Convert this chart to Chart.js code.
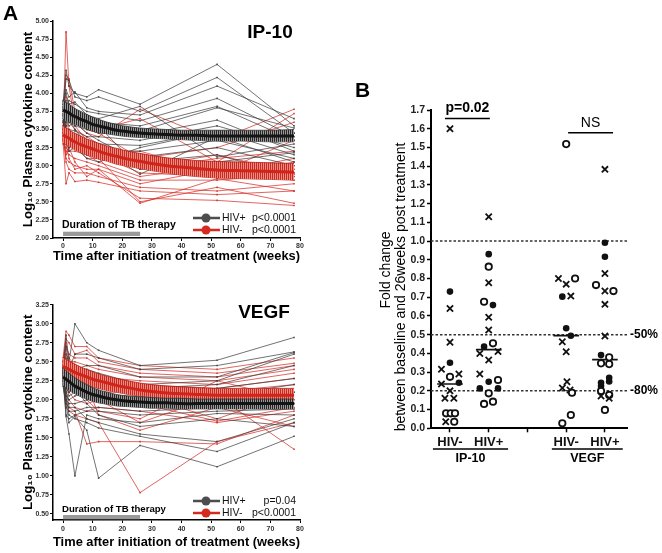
<!DOCTYPE html>
<html>
<head>
<meta charset="utf-8">
<script src="https://cdn.jsdelivr.net/npm/chart.js@4.4.0/dist/chart.umd.min.js"></script>
<style>
  body { margin: 0; background: #fff; }
  #wrap { position: relative; width: 662px; height: 553px; overflow: hidden; }
  canvas { position: absolute; }
</style>
</head>
<body>
<div id="wrap">
  <canvas id="ip10" width="330" height="265" style="left:0;top:0"></canvas>
  <canvas id="vegf" width="330" height="283" style="left:0;top:270px"></canvas>
  <canvas id="fold" width="322" height="400" style="left:340px;top:80px"></canvas>
</div>
<script>
// ---- panel A data (log10 cytokine per patient, at each visit) ----
const weeks = [0, 1, 2, 4, 8, 12, 26, 52, 78];
const xTicksA = [0, 10, 20, 30, 40, 50, 60, 70, 80];
const ip10Ticks = [2.00, 2.25, 2.50, 2.75, 3.00, 3.25, 3.50, 3.75, 4.00, 4.25, 4.50, 4.75, 5.00];
const vegfTicks = [0.50, 0.75, 1.00, 1.25, 1.50, 1.75, 2.00, 2.25, 2.50, 2.75, 3.00, 3.25];

const ip10HivPos = [
  [3.85, 4.32, 4.10, 4.00, 3.95, 4.05, 3.85, 4.40, 3.55],
  [3.80, 4.20, 4.18, 3.95, 3.90, 3.95, 3.75, 4.22, 3.45],
  [3.75, 4.05, 3.95, 4.02, 3.80, 3.75, 3.70, 4.10, 3.65],
  [3.90, 3.85, 3.90, 3.85, 3.75, 3.72, 3.62, 3.93, 3.40],
  [3.70, 3.75, 3.80, 3.70, 3.65, 3.60, 3.55, 3.82, 3.35],
  [3.65, 3.60, 3.70, 3.62, 3.55, 3.50, 3.48, 3.80, 3.52],
  [3.78, 3.55, 3.60, 3.55, 3.50, 3.45, 3.42, 3.63, 3.20],
  [3.72, 3.50, 3.50, 3.48, 3.40, 3.40, 3.35, 3.55, 3.25],
  [3.68, 3.45, 3.40, 3.42, 3.35, 3.30, 3.28, 3.48, 3.15],
  [3.82, 3.40, 3.35, 3.30, 3.25, 3.20, 3.20, 3.35, 3.10],
  [3.60, 3.30, 3.25, 3.35, 3.15, 3.15, 3.12, 3.25, 3.00],
  [3.75, 3.65, 3.55, 3.60, 3.45, 3.35, 3.05, 3.15, 2.85],
  [3.85, 3.90, 3.75, 3.78, 3.60, 3.55, 2.95, 3.05, 3.18],
  [3.70, 3.70, 3.65, 3.50, 3.30, 3.25, 2.88, 3.40, 3.05],
  [3.62, 3.35, 3.20, 3.25, 3.10, 3.05, 3.25, 3.48, 3.45],
  [3.88, 4.00, 3.85, 3.88, 3.70, 3.65, 3.82, 3.12, 3.30]
];
const ip10HivNeg = [
  [3.50, 4.85, 4.10, 3.60, 3.45, 3.40, 3.78, 3.35, 3.78],
  [3.45, 4.25, 4.20, 3.75, 3.55, 3.50, 3.65, 3.05, 3.72],
  [3.40, 3.95, 3.85, 3.70, 3.50, 3.45, 3.10, 3.25, 3.60],
  [3.55, 3.70, 3.60, 3.50, 3.40, 3.30, 3.00, 2.90, 3.35],
  [3.35, 3.55, 3.45, 3.35, 3.25, 3.20, 2.95, 3.10, 3.20],
  [3.48, 3.40, 3.30, 3.25, 3.20, 3.15, 2.90, 2.85, 3.05],
  [3.30, 3.25, 3.20, 3.20, 3.15, 3.05, 2.85, 3.00, 2.95],
  [3.42, 3.20, 3.15, 3.10, 3.05, 3.00, 2.80, 2.80, 2.88],
  [3.38, 3.10, 3.05, 3.00, 2.95, 2.95, 2.75, 2.95, 2.80],
  [3.52, 3.05, 2.95, 2.90, 2.90, 2.85, 2.70, 2.65, 2.75],
  [3.33, 2.75, 2.90, 2.78, 2.80, 2.77, 2.65, 2.60, 2.65],
  [3.46, 3.30, 3.10, 2.95, 3.00, 2.90, 2.55, 2.52, 2.45],
  [3.40, 3.50, 3.40, 3.30, 3.10, 3.10, 2.50, 2.70, 2.48],
  [3.36, 3.15, 3.25, 3.05, 2.85, 2.95, 2.48, 2.82, 2.65],
  [3.44, 3.60, 3.50, 3.40, 3.30, 3.20, 3.20, 2.90, 3.10],
  [3.50, 3.80, 3.70, 3.55, 3.35, 3.25, 2.98, 3.15, 2.90]
];
const vegfHivPos = [
  [2.40, 2.85, 2.50, 3.00, 2.75, 2.65, 2.45, 2.52, 2.82],
  [2.35, 2.70, 2.40, 2.60, 2.60, 2.55, 2.40, 2.45, 2.63],
  [2.30, 2.55, 2.30, 2.40, 2.45, 2.45, 2.30, 2.30, 2.62],
  [2.25, 2.45, 2.20, 2.30, 2.40, 2.35, 2.20, 2.25, 2.60],
  [2.35, 2.30, 2.15, 2.20, 2.30, 2.25, 2.15, 2.20, 2.45],
  [2.20, 2.20, 2.05, 2.10, 2.20, 2.15, 2.10, 2.15, 2.28],
  [2.28, 2.10, 2.00, 2.05, 2.10, 2.05, 2.00, 2.05, 2.20],
  [2.32, 2.00, 1.95, 1.95, 2.00, 2.00, 1.95, 1.98, 2.10],
  [2.22, 1.90, 1.85, 1.85, 1.90, 1.90, 1.85, 1.90, 1.95],
  [2.38, 1.80, 1.75, 1.80, 1.85, 1.85, 1.80, 1.85, 1.88],
  [2.26, 1.78, 1.55, 1.00, 1.80, 1.75, 1.70, 1.82, 1.80],
  [2.18, 1.95, 1.70, 1.78, 1.60, 0.97, 1.40, 1.12, 1.52],
  [2.42, 2.05, 1.80, 1.75, 1.70, 1.63, 1.52, 1.32, 1.70],
  [2.24, 2.15, 1.90, 1.90, 1.75, 1.70, 1.55, 1.45, 1.75],
  [2.33, 2.25, 2.10, 2.15, 1.95, 1.80, 1.65, 1.75, 1.65]
];
const vegfHivNeg = [
  [2.55, 2.90, 2.85, 2.70, 2.70, 2.55, 2.45, 2.40, 2.55],
  [2.50, 2.80, 2.75, 2.60, 2.65, 2.50, 2.40, 2.35, 2.48],
  [2.45, 2.70, 2.60, 2.55, 2.55, 2.45, 2.35, 2.30, 2.45],
  [2.48, 2.60, 2.50, 2.50, 2.45, 2.40, 2.30, 2.25, 2.40],
  [2.42, 2.50, 2.45, 2.40, 2.35, 2.30, 2.25, 2.20, 2.35],
  [2.40, 2.45, 2.35, 2.30, 2.25, 2.20, 2.20, 2.15, 2.28],
  [2.38, 2.35, 2.30, 2.20, 2.15, 2.10, 2.10, 2.10, 2.20],
  [2.52, 2.25, 2.20, 2.10, 2.05, 2.05, 2.05, 1.75, 2.10],
  [2.35, 2.15, 2.10, 2.00, 1.95, 2.00, 1.95, 1.72, 1.90],
  [2.46, 2.05, 2.00, 1.90, 1.85, 1.90, 1.85, 1.70, 1.85],
  [2.32, 1.95, 1.90, 1.85, 1.42, 1.45, 1.45, 1.42, 1.80],
  [2.44, 2.00, 1.85, 1.80, 1.75, 1.70, 0.78, 1.45, 1.70],
  [2.36, 2.60, 2.50, 2.35, 2.20, 1.80, 1.60, 1.90, 1.65],
  [2.50, 2.75, 2.55, 2.45, 2.30, 2.00, 1.70, 2.05, 1.35],
  [2.30, 2.20, 2.25, 2.15, 2.00, 1.85, 1.75, 2.25, 2.00]
];

// fitted curves with their bands
const fitWeeks = [0, 1, 2, 3, 4, 6, 8, 10, 12, 15, 18, 22, 26, 30, 35, 40, 45, 52, 60, 70, 78];
const ip10PosFit = [3.77, 3.75, 3.73, 3.70, 3.68, 3.64, 3.61, 3.57, 3.55, 3.52, 3.49, 3.47, 3.45, 3.44, 3.43, 3.42, 3.42, 3.41, 3.41, 3.41, 3.41];
const ip10PosHi  = [3.90, 3.87, 3.85, 3.82, 3.79, 3.75, 3.71, 3.67, 3.64, 3.60, 3.57, 3.54, 3.52, 3.51, 3.50, 3.49, 3.49, 3.49, 3.49, 3.49, 3.50];
const ip10PosLo  = [3.65, 3.63, 3.61, 3.59, 3.57, 3.54, 3.51, 3.48, 3.46, 3.44, 3.42, 3.40, 3.39, 3.38, 3.37, 3.36, 3.35, 3.34, 3.34, 3.33, 3.33];
const ip10NegFit = [3.43, 3.40, 3.38, 3.35, 3.33, 3.29, 3.26, 3.23, 3.20, 3.16, 3.13, 3.09, 3.06, 3.03, 3.00, 2.98, 2.96, 2.94, 2.93, 2.92, 2.91];
const ip10NegHi  = [3.55, 3.52, 3.50, 3.47, 3.45, 3.41, 3.37, 3.34, 3.31, 3.27, 3.24, 3.20, 3.17, 3.14, 3.11, 3.09, 3.07, 3.06, 3.05, 3.04, 3.03];
const ip10NegLo  = [3.32, 3.29, 3.27, 3.24, 3.22, 3.18, 3.15, 3.12, 3.09, 3.06, 3.02, 2.99, 2.96, 2.93, 2.90, 2.87, 2.85, 2.83, 2.82, 2.81, 2.80];
const vegfPosFit = [2.30, 2.27, 2.24, 2.21, 2.18, 2.14, 2.10, 2.07, 2.05, 2.02, 2.00, 1.98, 1.97, 1.96, 1.96, 1.95, 1.95, 1.95, 1.95, 1.95, 1.95];
const vegfPosHi  = [2.42, 2.38, 2.35, 2.32, 2.29, 2.24, 2.20, 2.16, 2.13, 2.10, 2.07, 2.05, 2.04, 2.03, 2.02, 2.02, 2.01, 2.01, 2.01, 2.01, 2.01];
const vegfPosLo  = [2.19, 2.16, 2.13, 2.10, 2.08, 2.04, 2.01, 1.98, 1.96, 1.94, 1.92, 1.91, 1.90, 1.89, 1.89, 1.88, 1.88, 1.88, 1.88, 1.88, 1.88];
const vegfNegFit = [2.44, 2.42, 2.40, 2.38, 2.36, 2.33, 2.30, 2.27, 2.25, 2.22, 2.19, 2.16, 2.13, 2.11, 2.09, 2.08, 2.07, 2.06, 2.06, 2.06, 2.06];
const vegfNegHi  = [2.56, 2.53, 2.51, 2.49, 2.47, 2.43, 2.40, 2.37, 2.34, 2.31, 2.28, 2.25, 2.22, 2.20, 2.18, 2.17, 2.16, 2.15, 2.15, 2.15, 2.15];
const vegfNegLo  = [2.33, 2.31, 2.29, 2.27, 2.25, 2.22, 2.19, 2.17, 2.15, 2.12, 2.10, 2.07, 2.05, 2.03, 2.01, 1.99, 1.98, 1.97, 1.97, 1.97, 1.97];

// ---- panel B data (fold change, 26 weeks vs baseline) ----
// kinds: x = cross, o = open circle, f = filled circle
const foldTicks = [0, 0.1, 0.2, 0.3, 0.4, 0.5, 0.6, 0.7, 0.8, 0.9, 1.0, 1.1, 1.2, 1.3, 1.4, 1.5, 1.6, 1.7];
const foldCats = [1, 2, 3, 4, 5];
const foldCatLabels = ['HIV-', 'HIV+', '', 'HIV-', 'HIV+'];
const refLines = [1.0, 0.5, 0.2];

const ip10NegVals  = [1.60, 0.73, 0.64, 0.46, 0.35, 0.315, 0.29, 0.275, 0.237, 0.243, 0.20, 0.16, 0.16, 0.08, 0.08, 0.08, 0.035, 0.035];
const ip10NegJit   = [0, 0, 0, 0, 0, -0.22, 0.23, 0, -0.22, 0.23, 0, -0.13, 0.10, -0.10, 0.02, 0.13, -0.11, 0.11];
const ip10NegKinds = ['x', 'f', 'x', 'x', 'f', 'x', 'x', 'o', 'x', 'f', 'x', 'x', 'x', 'o', 'o', 'o', 'x', 'o'];
const ip10NegMedian = 0.237;

const ip10PosVals  = [1.13, 0.93, 0.863, 0.777, 0.676, 0.658, 0.593, 0.525, 0.454, 0.436, 0.40, 0.41, 0.365, 0.29, 0.258, 0.249, 0.213, 0.213, 0.187, 0.142, 0.13];
const ip10PosJit   = [0, 0, 0, 0, -0.12, 0.11, 0, 0, 0.11, -0.12, -0.23, 0.24, 0, -0.23, 0.24, 0, -0.23, 0.24, 0, 0.11, -0.12];
const ip10PosKinds = ['x', 'f', 'o', 'x', 'o', 'f', 'x', 'x', 'o', 'f', 'x', 'x', 'x', 'x', 'o', 'f', 'f', 'f', 'o', 'o', 'o'];
const ip10PosMedian = 0.42;

const vegfNegVals  = [1.518, 0.80, 0.77, 0.80, 0.703, 0.706, 0.534, 0.494, 0.462, 0.409, 0.249, 0.215, 0.205, 0.19, 0.071, 0.027];
const vegfNegJit   = [0, -0.20, 0, 0.23, -0.10, 0.12, 0, 0.12, -0.10, 0, 0.02, -0.10, 0.10, 0.15, 0.12, -0.10];
const vegfNegKinds = ['o', 'x', 'x', 'o', 'f', 'x', 'f', 'f', 'x', 'x', 'x', 'x', 'x', 'o', 'o', 'o'];
const vegfNegMedian = 0.495;

const vegfPosVals  = [1.383, 0.991, 0.916, 0.827, 0.765, 0.733, 0.733, 0.662, 0.493, 0.391, 0.379, 0.347, 0.343, 0.27, 0.25, 0.243, 0.226, 0.199, 0.172, 0.178, 0.16, 0.098];
const vegfPosJit   = [0, 0, 0, 0, -0.23, 0, 0.22, 0, 0, -0.10, 0.11, -0.10, 0.11, 0.11, 0.11, -0.10, -0.10, -0.10, -0.10, 0.11, 0.11, 0];
const vegfPosKinds = ['x', 'f', 'f', 'x', 'o', 'x', 'o', 'x', 'x', 'f', 'o', 'o', 'o', 'f', 'f', 'f', 'f', 'o', 'x', 'o', 'x', 'o'];
const vegfPosMedian = 0.367;

// ---- styling ----
const F = "'Liberation Sans', Arial, Helvetica, sans-serif";
const GREY = 'rgba(60,60,60,0.85)';
const RED = 'rgba(214,40,34,0.85)';

function stripes(c1, c2) {
  const cv = document.createElement('canvas');
  cv.width = 2; cv.height = 1;
  const g = cv.getContext('2d');
  g.fillStyle = c1; g.fillRect(0, 0, 1, 1);
  g.fillStyle = c2; g.fillRect(1, 0, 1, 1);
  return g.createPattern(cv, 'repeat');
}
const blackBand = stripes('#262626', '#9a9a9a');
const redBand = stripes('#c62a20', '#ee8c82');

function txt(ctx, s, x, y, font, align, color) {
  ctx.font = font;
  ctx.textAlign = align || 'left';
  ctx.textBaseline = 'middle';
  ctx.fillStyle = color || '#000';
  ctx.fillText(s, x, y);
}
function hline(ctx, x1, x2, y, w, color) {
  ctx.beginPath();
  ctx.moveTo(x1, y); ctx.lineTo(x2, y);
  ctx.lineWidth = w; ctx.strokeStyle = color || '#000';
  ctx.stroke();
}

function lineSets(rows, color) {
  return rows.map(r => ({
    data: weeks.map((w, i) => ({ x: w, y: r[i] })),
    showLine: true, borderColor: color, borderWidth: 0.85,
    pointStyle: 'rect', pointRadius: 1.1, pointBackgroundColor: color, pointBorderWidth: 0,
    order: 10
  }));
}
function fitSets(mid, hi, lo, line, band, edge) {
  const pts = arr => fitWeeks.map((w, i) => ({ x: w, y: arr[i] }));
  return [
    { data: pts(hi), showLine: true, borderColor: edge, borderWidth: 0.8, pointRadius: 0, fill: '+1', backgroundColor: band, tension: 0.3, order: 5 },
    { data: pts(lo), showLine: true, borderColor: edge, borderWidth: 0.8, pointRadius: 0, fill: false, tension: 0.3, order: 5 },
    { data: pts(mid), showLine: true, borderColor: line, borderWidth: 3, pointRadius: 0, tension: 0.3, order: 1 }
  ];
}

function decoA(o) {
  return {
    id: 'decoA',
    afterDraw(chart) {
      const { ctx, chartArea: a, scales: { x } } = chart;
      ctx.save();
      if (o.letter) txt(ctx, o.letter, 3, 14, 'bold 21px ' + F);
      txt(ctx, o.name, o.nameX, o.nameY, 'bold 19px ' + F, 'center');
      // therapy duration bar
      ctx.fillStyle = '#9a9a9a';
      ctx.fillRect(x.getPixelForValue(0), a.bottom - o.barOff, x.getPixelForValue(26) - x.getPixelForValue(0), 4.3);
      txt(ctx, 'Duration of TB therapy', a.left + 9, a.bottom - o.durOff, 'bold ' + o.durSize + 'px ' + F);
      // legend
      [[o.legPos, '#4d4d4d', 'HIV+', o.pPos], [o.legNeg, '#d42a20', 'HIV-', o.pNeg]].forEach(([dy, c, lab, p]) => {
        const y = a.bottom - dy;
        hline(ctx, a.right - 107, a.right - 80, y, 2.5, c);
        ctx.beginPath(); ctx.arc(a.right - 94, y, 4.5, 0, Math.PI * 2); ctx.fillStyle = c; ctx.fill();
        txt(ctx, lab, a.right - 78, y, '10.5px ' + F, 'left', '#111');
        txt(ctx, p, a.right - 4, y, '10.5px ' + F, 'right', '#111');
      });
      ctx.restore();
    }
  };
}

function panelA(id, o) {
  return new Chart(document.getElementById(id), {
    type: 'scatter',
    data: {
      datasets: [
        ...lineSets(o.pos, GREY), ...lineSets(o.neg, RED),
        ...fitSets(o.posFit[0], o.posFit[1], o.posFit[2], '#141414', blackBand, '#333'),
        ...fitSets(o.negFit[0], o.negFit[1], o.negFit[2], '#d0241b', redBand, '#b02018')
      ]
    },
    options: {
      responsive: false, animation: false, devicePixelRatio: 1,
      layout: { padding: { left: 0, top: o.top, right: 30, bottom: 0 } },
      plugins: { legend: { display: false }, tooltip: { enabled: false } },
      scales: {
        x: {
          type: 'linear', min: -3.4, max: 80,
          afterBuildTicks: s => { s.ticks = xTicksA.map(v => ({ value: v })); },
          afterFit: s => { s.height = o.xh; },
          ticks: { font: { family: F, size: 7, weight: 'bold' }, color: '#333', padding: o.xpad, maxRotation: 0, autoSkip: false },
          grid: { drawOnChartArea: false, tickLength: 3, color: '#000' },
          border: { color: '#000', width: 1.5 },
          title: { display: true, text: 'Time after initiation of treatment (weeks)', color: '#000',
                   font: { family: F, size: 13.3, weight: 'bold' }, padding: { top: 0, bottom: o.tb } }
        },
        y: {
          min: o.ymin, max: o.ymax,
          afterBuildTicks: s => { s.ticks = o.yticks.map(v => ({ value: v })); },
          afterFit: s => { s.width = 53; },
          ticks: { callback: v => v.toFixed(2), font: { family: F, size: 7, weight: 'bold' }, color: '#333', padding: 1, autoSkip: false },
          grid: { drawOnChartArea: false, tickLength: 3, color: '#000' },
          border: { color: '#000', width: 1.5 },
          title: { display: true, text: 'Log\u2081\u2080 Plasma cytokine content', color: '#000',
                   font: { family: F, size: 13.3, weight: 'bold' }, padding: { top: 20, bottom: 0 } }
        }
      }
    },
    plugins: [decoA(o)]
  });
}

panelA('ip10', {
  pos: ip10HivPos, neg: ip10HivNeg,
  posFit: [ip10PosFit, ip10PosHi, ip10PosLo], negFit: [ip10NegFit, ip10NegHi, ip10NegLo],
  ymin: 2, ymax: 5, yticks: ip10Ticks, top: 21, xh: 27, xpad: 1, tb: 0.2,
  letter: 'A', name: 'IP-10', nameX: 270, nameY: 33,
  barOff: 6.3, durOff: 13, durSize: 10.5, legPos: 20, legNeg: 8,
  pPos: 'p<0.0001', pNeg: 'p<0.0001'
});
panelA('vegf', {
  pos: vegfHivPos, neg: vegfHivNeg,
  posFit: [vegfPosFit, vegfPosHi, vegfPosLo], negFit: [vegfNegFit, vegfNegHi, vegfNegLo],
  ymin: 0.42, ymax: 3.25, yticks: vegfTicks, top: 34.7, xh: 33, xpad: 2, tb: 2.2,
  letter: '', name: 'VEGF', nameX: 264, nameY: 43,
  barOff: 5, durOff: 11, durSize: 9.6, legPos: 19, legNeg: 7,
  pPos: 'p=0.04', pNeg: 'p<0.0001'
});

// ---- panel B ----
function groupSet(center, vals, jit, kinds) {
  return {
    data: vals.map((v, i) => ({ x: center + jit[i], y: v })),
    pointStyle: kinds.map(k => k === 'x' ? 'crossRot' : 'circle'),
    pointRadius: kinds.map(k => k === 'x' ? 4.4 : k === 'o' ? 3.2 : 3.3),
    pointBackgroundColor: kinds.map(k => k === 'o' ? '#fff' : '#111'),
    pointBorderColor: '#111',
    pointBorderWidth: kinds.map(k => k === 'f' ? 0 : 1.8),
    showLine: false, order: 1
  };
}
function medianSet(center, m) {
  return { data: [{ x: center - 0.33, y: m }, { x: center + 0.33, y: m }], showLine: true,
           borderColor: '#111', borderWidth: 1.6, pointRadius: 0, order: 2 };
}
const X_MIN = 0.51, X_MAX = 5.57;

const decoB = {
  id: 'decoB',
  afterDraw(chart) {
    const { ctx, chartArea: a, scales: { x, y } } = chart;
    ctx.save();
    txt(ctx, 'B', 15, 11, 'bold 21px ' + F);
    ctx.save(); ctx.translate(46, 190); ctx.rotate(-Math.PI / 2);
    txt(ctx, 'Fold change', 0, 0, '14px ' + F, 'center'); ctx.restore();
    ctx.save(); ctx.translate(61, 207); ctx.rotate(-Math.PI / 2);
    txt(ctx, 'between baseline and 26weeks post treatment', 0, 0, '14px ' + F, 'center'); ctx.restore();
    // significance bars
    const py = y.getPixelForValue(1.655);
    hline(ctx, x.getPixelForValue(0.87), x.getPixelForValue(2.03), py, 1.5);
    txt(ctx, 'p=0.02', x.getPixelForValue(1.45), py - 10, 'bold 14px ' + F, 'center');
    const ny = y.getPixelForValue(1.578);
    hline(ctx, x.getPixelForValue(4.05), x.getPixelForValue(5.21), ny, 1.5);
    txt(ctx, 'NS', x.getPixelForValue(4.63), ny - 10, '14px ' + F, 'center');
    // percent labels
    txt(ctx, '-50%', a.right + 3, y.getPixelForValue(0.5), 'bold 12px ' + F);
    txt(ctx, '-80%', a.right + 3, y.getPixelForValue(0.2), 'bold 12px ' + F);
    // cytokine group labels
    [[0.56, 2.5, 'IP-10'], [3.63, 5.46, 'VEGF']].forEach(([g1, g2, lab]) => {
      const x1 = x.getPixelForValue(g1), x2 = x.getPixelForValue(g2);
      hline(ctx, x1, x2, a.bottom + 20.7, 1.3);
      txt(ctx, lab, (x1 + x2) / 2, a.bottom + 30, 'bold 12.5px ' + F, 'center');
    });
    ctx.restore();
  }
};

new Chart(document.getElementById('fold'), {
  type: 'scatter',
  data: {
    datasets: [
      ...refLines.map(r => ({ data: [{ x: X_MIN, y: r }, { x: X_MAX, y: r }], showLine: true,
        borderColor: '#333', borderWidth: 1.5, borderDash: [2.5, 2], pointRadius: 0, order: 3 })),
      medianSet(1, ip10NegMedian), medianSet(2, ip10PosMedian),
      medianSet(4, vegfNegMedian), medianSet(5, vegfPosMedian),
      groupSet(1, ip10NegVals, ip10NegJit, ip10NegKinds),
      groupSet(2, ip10PosVals, ip10PosJit, ip10PosKinds),
      groupSet(4, vegfNegVals, vegfNegJit, vegfNegKinds),
      groupSet(5, vegfPosVals, vegfPosJit, vegfPosKinds)
    ]
  },
  options: {
    responsive: false, animation: false, devicePixelRatio: 1,
    layout: { padding: { left: 0, top: 30, right: 35, bottom: 0 } },
    plugins: { legend: { display: false }, tooltip: { enabled: false } },
    scales: {
      x: {
        type: 'linear', min: X_MIN, max: X_MAX,
        afterBuildTicks: s => { s.ticks = foldCats.map(v => ({ value: v })); },
        afterFit: s => { s.height = 51.7; },
        ticks: { callback: v => foldCatLabels[foldCats.indexOf(v)], font: { family: F, size: 13, weight: 'bold' },
                 color: '#111', padding: 2, maxRotation: 0, autoSkip: false },
        grid: { drawOnChartArea: false, tickLength: 4, color: '#000', tickWidth: 1.5 },
        border: { color: '#000', width: 2 }
      },
      y: {
        min: 0, max: 1.7,
        afterBuildTicks: s => { s.ticks = foldTicks.map(v => ({ value: v })); },
        afterFit: s => { s.width = 91; },
        ticks: { callback: v => v.toFixed(1), font: { family: F, size: 10.5, weight: 'bold' }, color: '#222', padding: 2, autoSkip: false },
        grid: { drawOnChartArea: false, tickLength: 4, color: '#000', tickWidth: 1.5 },
        border: { color: '#000', width: 2 }
      }
    }
  },
  plugins: [decoB]
});
</script>
</body>
</html>
